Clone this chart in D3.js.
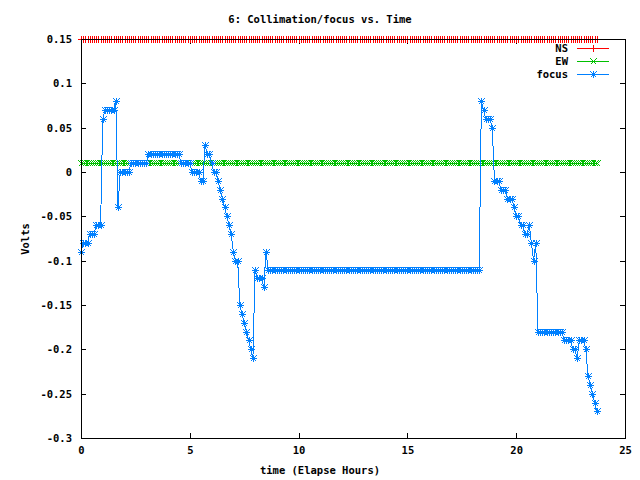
<!DOCTYPE html>
<html>
<head>
<meta charset="utf-8">
<script src="https://cdn.jsdelivr.net/npm/d3@7"></script>
<style>
html,body{margin:0;padding:0;background:#fff;}
svg{display:block;}
text{font-family:"DejaVu Sans Mono","Liberation Mono",monospace;font-weight:bold;font-size:10.5px;fill:#000;}
</style>
</head>
<body>
<svg id="chart" width="640" height="480"></svg>
<script>
const title = "6: Collimation/focus vs. Time";
const xTitle = "time (Elapse Hours)";
const yTitle = "Volts";
const seriesNames = ["NS", "EW", "focus"];
const seriesColors = ["#ff0000", "#00c000", "#0080ff"];
const xTickValues = [0, 5, 10, 15, 20, 25];
const xTickLabels = ["0", "5", "10", "15", "20", "25"];
const yTickValues = [0.15, 0.1, 0.05, 0, -0.05, -0.1, -0.15, -0.2, -0.25, -0.3];
const yTickLabels = ["0.15", "0.1", "0.05", "0", "-0.05", "-0.1", "-0.15", "-0.2", "-0.25", "-0.3"];

const hours = [
0,0.1,0.2,0.3,0.4,0.5,0.6,0.7,0.8,0.9,
1,1.1,1.2,1.3,1.4,1.5,1.6,1.7,1.8,1.9,
2,2.1,2.2,2.3,2.4,2.5,2.6,2.7,2.8,2.9,
3,3.1,3.2,3.3,3.4,3.5,3.6,3.7,3.8,3.9,
4,4.1,4.2,4.3,4.4,4.5,4.6,4.7,4.8,4.9,
5,5.1,5.2,5.3,5.4,5.5,5.6,5.7,5.8,5.9,
6,6.1,6.2,6.3,6.4,6.5,6.6,6.7,6.8,6.9,
7,7.1,7.2,7.3,7.4,7.5,7.6,7.7,7.8,7.9,
8,8.1,8.2,8.3,8.4,8.5,8.6,8.7,8.8,8.9,
9,9.1,9.2,9.3,9.4,9.5,9.6,9.7,9.8,9.9,
10,10.1,10.2,10.3,10.4,10.5,10.6,10.7,10.8,10.9,
11,11.1,11.2,11.3,11.4,11.5,11.6,11.7,11.8,11.9,
12,12.1,12.2,12.3,12.4,12.5,12.6,12.7,12.8,12.9,
13,13.1,13.2,13.3,13.4,13.5,13.6,13.7,13.8,13.9,
14,14.1,14.2,14.3,14.4,14.5,14.6,14.7,14.8,14.9,
15,15.1,15.2,15.3,15.4,15.5,15.6,15.7,15.8,15.9,
16,16.1,16.2,16.3,16.4,16.5,16.6,16.7,16.8,16.9,
17,17.1,17.2,17.3,17.4,17.5,17.6,17.7,17.8,17.9,
18,18.1,18.2,18.3,18.4,18.5,18.6,18.7,18.8,18.9,
19,19.1,19.2,19.3,19.4,19.5,19.6,19.7,19.8,19.9,
20,20.1,20.2,20.3,20.4,20.5,20.6,20.7,20.8,20.9,
21,21.1,21.2,21.3,21.4,21.5,21.6,21.7,21.8,21.9,
22,22.1,22.2,22.3,22.4,22.5,22.6,22.7,22.8,22.9,
23,23.1,23.2,23.3,23.4,23.5,23.6,23.7
];

const nsValues = [
0.15,0.15,0.15,0.15,0.15,0.15,0.15,0.15,0.15,0.15,
0.15,0.15,0.15,0.15,0.15,0.15,0.15,0.15,0.15,0.15,
0.15,0.15,0.15,0.15,0.15,0.15,0.15,0.15,0.15,0.15,
0.15,0.15,0.15,0.15,0.15,0.15,0.15,0.15,0.15,0.15,
0.15,0.15,0.15,0.15,0.15,0.15,0.15,0.15,0.15,0.15,
0.15,0.15,0.15,0.15,0.15,0.15,0.15,0.15,0.15,0.15,
0.15,0.15,0.15,0.15,0.15,0.15,0.15,0.15,0.15,0.15,
0.15,0.15,0.15,0.15,0.15,0.15,0.15,0.15,0.15,0.15,
0.15,0.15,0.15,0.15,0.15,0.15,0.15,0.15,0.15,0.15,
0.15,0.15,0.15,0.15,0.15,0.15,0.15,0.15,0.15,0.15,
0.15,0.15,0.15,0.15,0.15,0.15,0.15,0.15,0.15,0.15,
0.15,0.15,0.15,0.15,0.15,0.15,0.15,0.15,0.15,0.15,
0.15,0.15,0.15,0.15,0.15,0.15,0.15,0.15,0.15,0.15,
0.15,0.15,0.15,0.15,0.15,0.15,0.15,0.15,0.15,0.15,
0.15,0.15,0.15,0.15,0.15,0.15,0.15,0.15,0.15,0.15,
0.15,0.15,0.15,0.15,0.15,0.15,0.15,0.15,0.15,0.15,
0.15,0.15,0.15,0.15,0.15,0.15,0.15,0.15,0.15,0.15,
0.15,0.15,0.15,0.15,0.15,0.15,0.15,0.15,0.15,0.15,
0.15,0.15,0.15,0.15,0.15,0.15,0.15,0.15,0.15,0.15,
0.15,0.15,0.15,0.15,0.15,0.15,0.15,0.15,0.15,0.15,
0.15,0.15,0.15,0.15,0.15,0.15,0.15,0.15,0.15,0.15,
0.15,0.15,0.15,0.15,0.15,0.15,0.15,0.15,0.15,0.15,
0.15,0.15,0.15,0.15,0.15,0.15,0.15,0.15,0.15,0.15,
0.15,0.15,0.15,0.15,0.15,0.15,0.15,0.15
];

const ewValues = [
0.01,0.01,0.01,0.01,0.01,0.01,0.01,0.01,0.01,0.01,
0.01,0.01,0.01,0.01,0.01,0.01,0.01,0.01,0.01,0.01,
0.01,0.01,0.01,0.01,0.01,0.01,0.01,0.01,0.01,0.01,
0.01,0.01,0.01,0.01,0.01,0.01,0.01,0.01,0.01,0.01,
0.01,0.01,0.01,0.01,0.01,0.01,0.01,0.01,0.01,0.01,
0.01,0.01,0.01,0.01,0.01,0.01,0.01,0.01,0.01,0.01,
0.01,0.01,0.01,0.01,0.01,0.01,0.01,0.01,0.01,0.01,
0.01,0.01,0.01,0.01,0.01,0.01,0.01,0.01,0.01,0.01,
0.01,0.01,0.01,0.01,0.01,0.01,0.01,0.01,0.01,0.01,
0.01,0.01,0.01,0.01,0.01,0.01,0.01,0.01,0.01,0.01,
0.01,0.01,0.01,0.01,0.01,0.01,0.01,0.01,0.01,0.01,
0.01,0.01,0.01,0.01,0.01,0.01,0.01,0.01,0.01,0.01,
0.01,0.01,0.01,0.01,0.01,0.01,0.01,0.01,0.01,0.01,
0.01,0.01,0.01,0.01,0.01,0.01,0.01,0.01,0.01,0.01,
0.01,0.01,0.01,0.01,0.01,0.01,0.01,0.01,0.01,0.01,
0.01,0.01,0.01,0.01,0.01,0.01,0.01,0.01,0.01,0.01,
0.01,0.01,0.01,0.01,0.01,0.01,0.01,0.01,0.01,0.01,
0.01,0.01,0.01,0.01,0.01,0.01,0.01,0.01,0.01,0.01,
0.01,0.01,0.01,0.01,0.01,0.01,0.01,0.01,0.01,0.01,
0.01,0.01,0.01,0.01,0.01,0.01,0.01,0.01,0.01,0.01,
0.01,0.01,0.01,0.01,0.01,0.01,0.01,0.01,0.01,0.01,
0.01,0.01,0.01,0.01,0.01,0.01,0.01,0.01,0.01,0.01,
0.01,0.01,0.01,0.01,0.01,0.01,0.01,0.01,0.01,0.01,
0.01,0.01,0.01,0.01,0.01,0.01,0.01,0.01
];

const focusValues = [
-0.09,-0.08,-0.08,-0.08,-0.07,-0.07,-0.07,-0.06,-0.06,-0.06,
0.06,0.07,0.07,0.07,0.07,0.07,0.08,-0.04,0,0,
0,0,0,0.01,0.01,0.01,0.01,0.01,0.01,0.01,
0.01,0.02,0.02,0.02,0.02,0.02,0.02,0.02,0.02,0.02,
0.02,0.02,0.02,0.02,0.02,0.02,0.01,0.01,0.01,0.01,
0.01,0,0,0,0,-0.01,-0.01,0.03,0.02,0.02,
0.01,0,0,-0.01,-0.02,-0.03,-0.04,-0.05,-0.06,-0.07,
-0.09,-0.10,-0.10,-0.15,-0.16,-0.17,-0.18,-0.19,-0.20,-0.21,
-0.11,-0.12,-0.12,-0.12,-0.13,-0.09,-0.11,-0.11,-0.11,-0.11,
-0.11,-0.11,-0.11,-0.11,-0.11,-0.11,-0.11,-0.11,-0.11,-0.11,
-0.11,-0.11,-0.11,-0.11,-0.11,-0.11,-0.11,-0.11,-0.11,-0.11,
-0.11,-0.11,-0.11,-0.11,-0.11,-0.11,-0.11,-0.11,-0.11,-0.11,
-0.11,-0.11,-0.11,-0.11,-0.11,-0.11,-0.11,-0.11,-0.11,-0.11,
-0.11,-0.11,-0.11,-0.11,-0.11,-0.11,-0.11,-0.11,-0.11,-0.11,
-0.11,-0.11,-0.11,-0.11,-0.11,-0.11,-0.11,-0.11,-0.11,-0.11,
-0.11,-0.11,-0.11,-0.11,-0.11,-0.11,-0.11,-0.11,-0.11,-0.11,
-0.11,-0.11,-0.11,-0.11,-0.11,-0.11,-0.11,-0.11,-0.11,-0.11,
-0.11,-0.11,-0.11,-0.11,-0.11,-0.11,-0.11,-0.11,-0.11,-0.11,
-0.11,-0.11,-0.11,-0.11,0.08,0.07,0.06,0.06,0.06,0.05,
-0.01,-0.01,-0.01,-0.02,-0.02,-0.02,-0.03,-0.03,-0.03,-0.04,
-0.05,-0.05,-0.06,-0.06,-0.07,-0.07,-0.06,-0.08,-0.10,-0.08,
-0.18,-0.18,-0.18,-0.18,-0.18,-0.18,-0.18,-0.18,-0.18,-0.18,
-0.18,-0.18,-0.19,-0.19,-0.19,-0.19,-0.20,-0.20,-0.21,-0.19,
-0.19,-0.19,-0.20,-0.23,-0.24,-0.25,-0.26,-0.27
];

const seriesValues = [nsValues, ewValues, focusValues];

const svg = d3.select("#chart");
const plot = {left: 81, right: 625, top: 39, bottom: 438};
const x = d3.scaleLinear().domain([0, 25]).range([plot.left, plot.right]);
const y = d3.scaleLinear().domain([-0.3, 0.15]).range([plot.bottom, plot.top]);

// point symbols (gnuplot types 1,2,3)
const symbolPaths = [
  "M-3.5,0H3.5M0,-3.5V3.5",
  "M-3,-3L3,3M-3,3L3,-3",
  "M-3.5,0H3.5M0,-3.5V3.5M-3,-3L3,3M-3,3L3,-3"
];

// axes
const tickLen = 5;
const gx = svg.append("g").attr("transform", `translate(0,${plot.bottom})`)
  .call(d3.axisBottom(x).tickValues(xTickValues).tickSize(-tickLen).tickPadding(10)
    .tickFormat((d, i) => xTickLabels[i]));
const gy = svg.append("g").attr("transform", `translate(${plot.left},0)`)
  .call(d3.axisLeft(y).tickValues(yTickValues).tickSize(-tickLen).tickPadding(9)
    .tickFormat((d, i) => yTickLabels[i]));
const gxt = svg.append("g").attr("transform", `translate(0,${plot.top})`)
  .call(d3.axisTop(x).tickValues(xTickValues).tickSize(-tickLen).tickFormat(""));
const gyr = svg.append("g").attr("transform", `translate(${plot.right},0)`)
  .call(d3.axisRight(y).tickValues(yTickValues).tickSize(-tickLen).tickFormat(""));
[gx, gy, gxt, gyr].forEach(g => {
  g.select(".domain").remove();
  g.selectAll("line").attr("stroke", "#000").attr("shape-rendering", "crispEdges");
  g.selectAll("text").attr("font-family", null).attr("font-size", null).style("fill", "#000");
});
gx.selectAll("text").attr("dy", "0.6em");

// series
const line = d3.line().x(d => x(d[0])).y(d => y(d[1]));
seriesValues.forEach((vals, s) => {
  const pts = vals.map((v, i) => [hours[i], v]);
  const g = svg.append("g");
  g.append("path").attr("d", line(pts)).attr("fill", "none")
    .attr("stroke", seriesColors[s]).attr("stroke-width", 1).attr("shape-rendering", "crispEdges");
  g.selectAll("path.pt").data(pts).enter().append("path").attr("class", "pt")
    .attr("transform", d => `translate(${Math.round(x(d[0])) + 0.5},${Math.round(y(d[1])) + 0.5})`)
    .attr("d", symbolPaths[s]).attr("fill", "none").attr("stroke", seriesColors[s])
    .attr("stroke-width", 1).attr("shape-rendering", "crispEdges");
});

// border
svg.append("rect").attr("x", plot.left + 0.5).attr("y", plot.top + 0.5)
  .attr("width", plot.right - plot.left).attr("height", plot.bottom - plot.top)
  .attr("fill", "none").attr("stroke", "#000").attr("stroke-width", 1)
  .attr("shape-rendering", "crispEdges");

// legend
const legendRows = [48, 61, 74];
seriesNames.forEach((name, s) => {
  const ly = legendRows[s];
  svg.append("text").attr("x", 568).attr("y", ly).attr("dy", "0.35em")
    .attr("text-anchor", "end").text(name);
  svg.append("line").attr("x1", 577).attr("x2", 609).attr("y1", ly + 0.5).attr("y2", ly + 0.5)
    .attr("stroke", seriesColors[s]).attr("stroke-width", 1).attr("shape-rendering", "crispEdges");
  svg.append("path").attr("transform", `translate(593.5,${ly + 0.5})`)
    .attr("d", symbolPaths[s]).attr("fill", "none").attr("stroke", seriesColors[s])
    .attr("shape-rendering", "crispEdges");
});

// titles
svg.append("text").attr("x", 320).attr("y", 19).attr("dy", "0.35em")
  .attr("text-anchor", "middle").text(title);
svg.append("text").attr("x", 320).attr("y", 470).attr("dy", "0.35em")
  .attr("text-anchor", "middle").text(xTitle);
svg.append("text").attr("transform", "translate(25,239) rotate(-90)").attr("dy", "0.35em")
  .attr("text-anchor", "middle").text(yTitle);
</script>
</body>
</html>
